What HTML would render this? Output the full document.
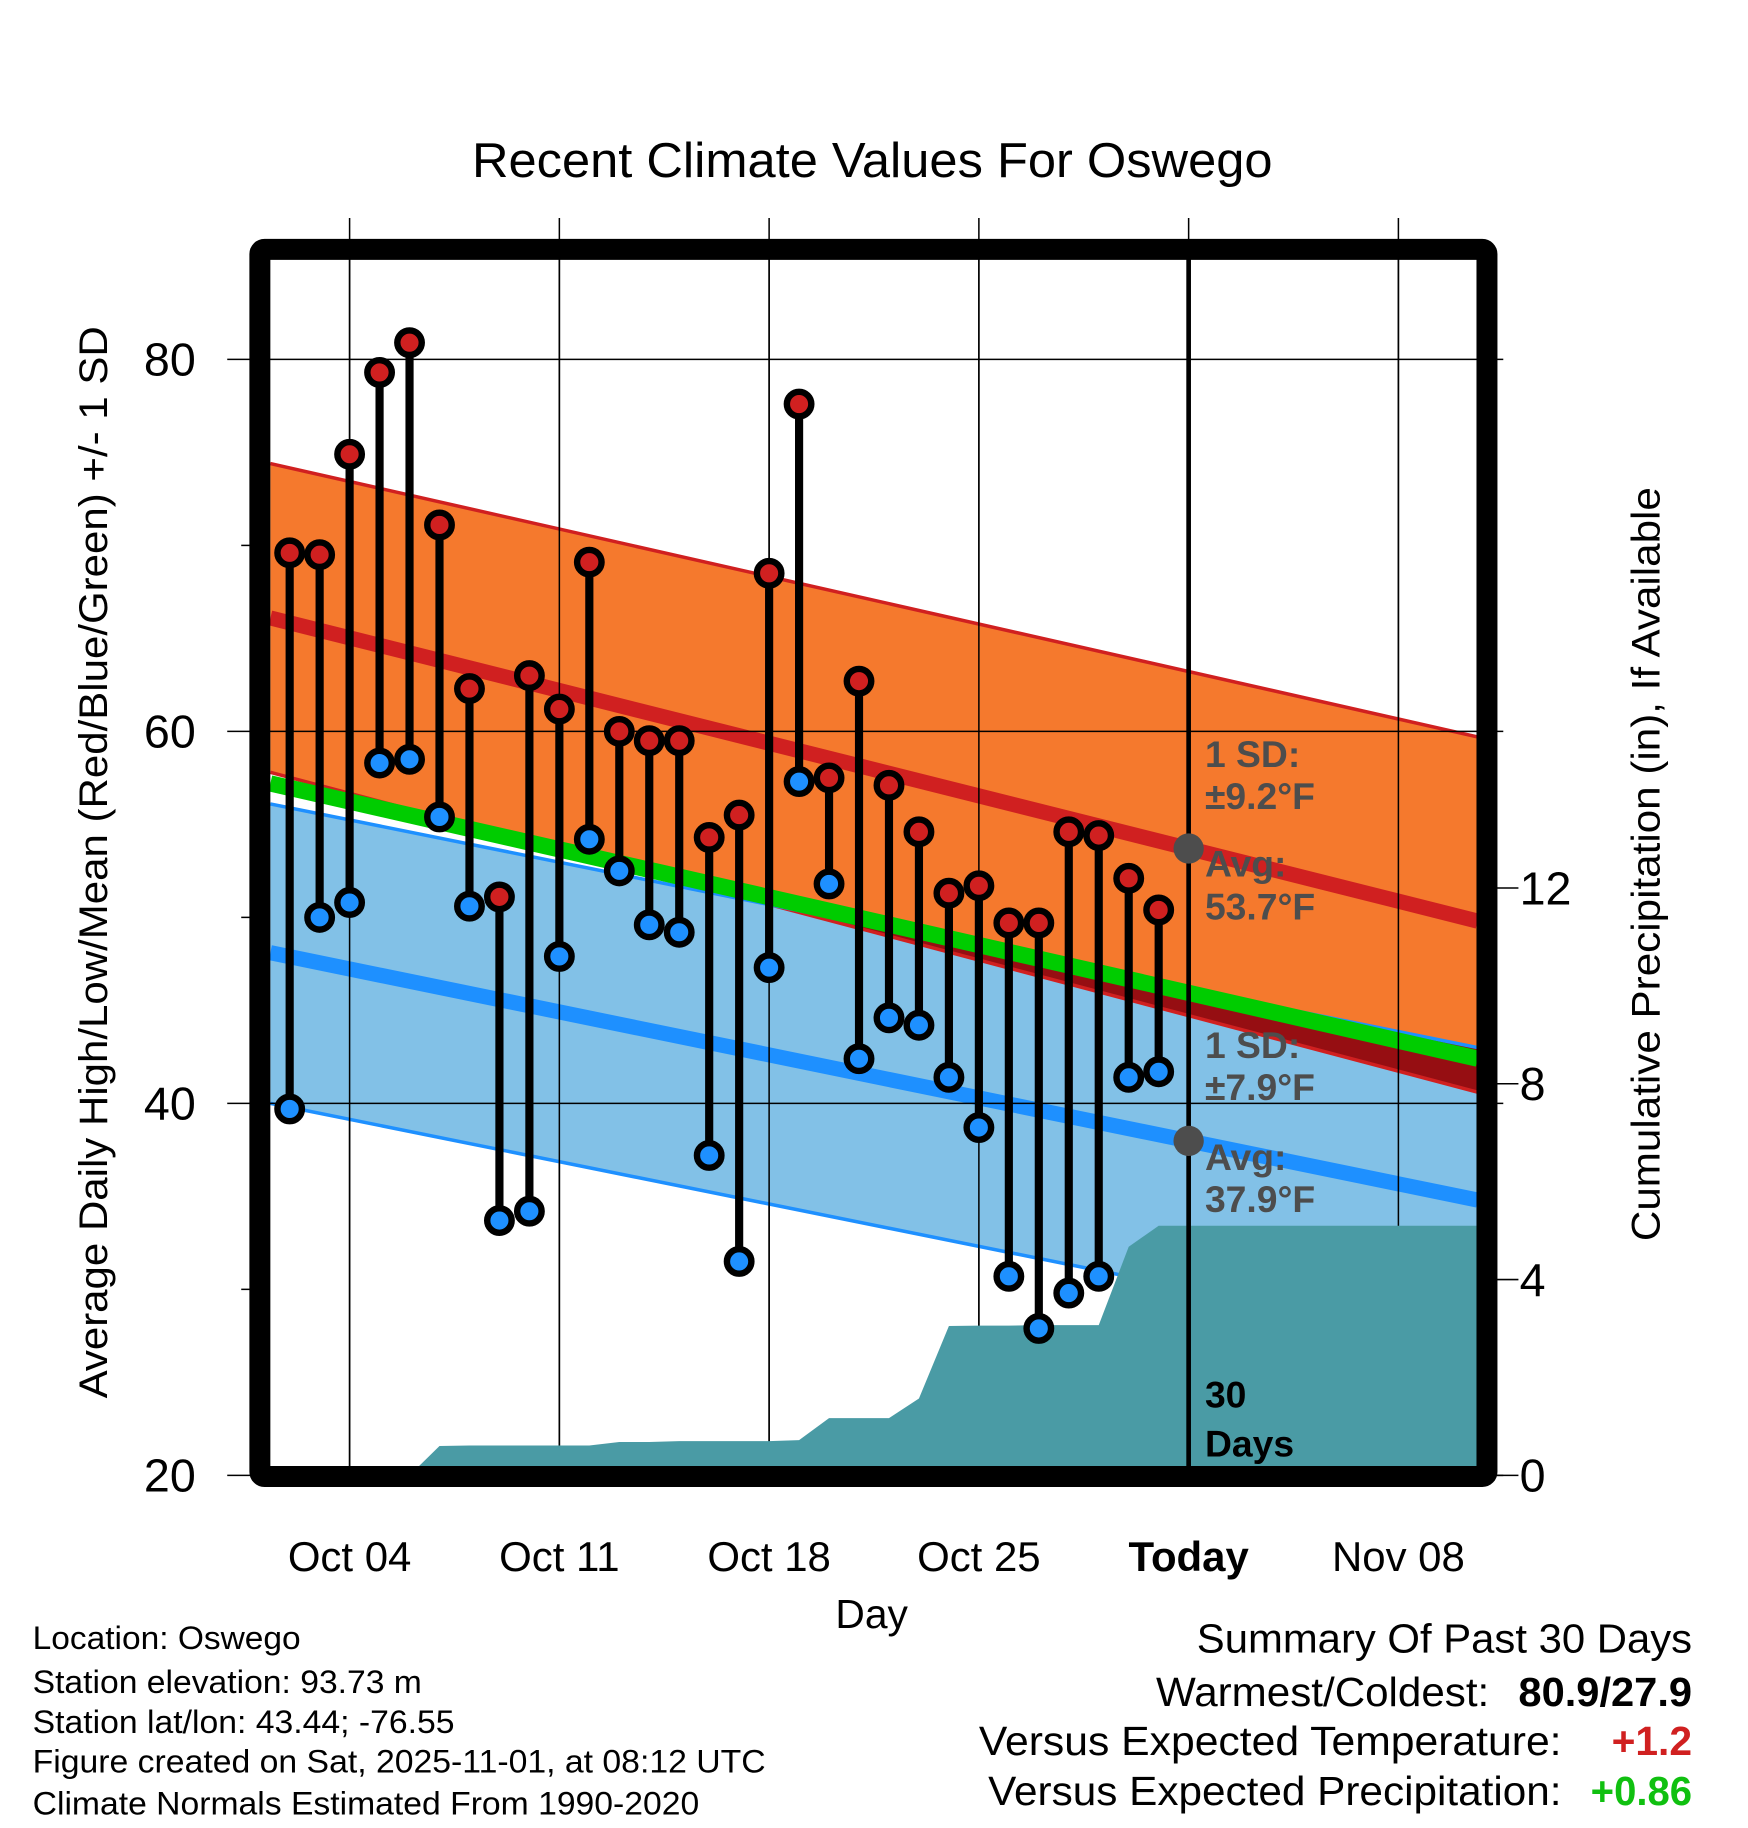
<!DOCTYPE html>
<html><head><meta charset="utf-8"><style>
html,body{margin:0;padding:0;background:#fff}
svg{display:block}
text{font-family:"Liberation Sans",sans-serif}
</style></head><body>
<svg id="chart" width="1748" height="1828" viewBox="0 0 1500 1568.6" xmlns="http://www.w3.org/2000/svg">
<rect width="1500" height="1568.6" fill="#fff"/>
<text x="405" y="152" font-size="42" textLength="687" lengthAdjust="spacingAndGlyphs">Recent Climate Values For Oswego</text>
<g id="grid"></g>
<g id="bands"></g>
<g id="precip"></g>
<g id="marks"></g>
<g id="frame"></g>
<g id="axes"></g>
<text transform="translate(92,1200) rotate(-90)" font-size="34" textLength="920" lengthAdjust="spacingAndGlyphs">Average Daily High/Low/Mean (Red/Blue/Green) +/- 1 SD</text>
<text transform="translate(1424,1065) rotate(-90)" font-size="34" textLength="647" lengthAdjust="spacingAndGlyphs">Cumulative Precipitation (in), If Available</text>
<text x="748" y="1397" font-size="35" text-anchor="middle">Day</text>
<g font-size="28" lengthAdjust="spacingAndGlyphs">
<text x="28" y="1415" textLength="230" lengthAdjust="spacingAndGlyphs">Location: Oswego</text>
<text x="28" y="1453" textLength="334" lengthAdjust="spacingAndGlyphs">Station elevation: 93.73 m</text>
<text x="28" y="1487" textLength="362" lengthAdjust="spacingAndGlyphs">Station lat/lon: 43.44; -76.55</text>
<text x="28" y="1521" textLength="629" lengthAdjust="spacingAndGlyphs">Figure created on Sat, 2025-11-01, at 08:12 UTC</text>
<text x="28" y="1557" textLength="572" lengthAdjust="spacingAndGlyphs">Climate Normals Estimated From 1990-2020</text>
</g>
<g font-size="35">
<text x="1027" y="1418" textLength="425" lengthAdjust="spacingAndGlyphs">Summary Of Past 30 Days</text>
<text x="992" y="1464" textLength="286" lengthAdjust="spacingAndGlyphs">Warmest/Coldest:</text>
<text x="1303" y="1464" font-weight="bold" textLength="149" lengthAdjust="spacingAndGlyphs">80.9/27.9</text>
<text x="840" y="1506" textLength="500" lengthAdjust="spacingAndGlyphs">Versus Expected Temperature:</text>
<text x="1452" y="1506" text-anchor="end" font-weight="bold" fill="#d02020">+1.2</text>
<text x="848" y="1549" textLength="492" lengthAdjust="spacingAndGlyphs">Versus Expected Precipitation:</text>
<text x="1365" y="1549" font-weight="bold" fill="#10c010" textLength="87" lengthAdjust="spacingAndGlyphs">+0.86</text>
</g>
</svg>
<script>
// data: day-of-month (October)
const days = [2,3,4,5,6,7,8,9,10,11,12,13,14,15,16,17,18,19,20,21,22,23,24,25,26,27,28,29,30,31];
const highs = [69.6,69.5,74.9,79.3,80.9,71.1,62.3,51.1,63.0,61.2,69.1,60.0,59.5,59.5,54.3,55.5,68.5,77.6,57.5,62.7,57.1,54.6,51.3,51.7,49.7,49.7,54.6,54.4,52.1,50.4];
const lows = [39.7,50.0,50.8,58.3,58.5,55.4,50.6,33.7,34.2,47.9,54.2,52.5,49.6,49.2,37.2,31.5,47.3,57.3,51.8,42.4,44.6,44.2,41.4,38.7,30.7,27.9,29.8,30.7,41.4,41.7];
const precip = [0,0,0,0,0,0.6,0.61,0.61,0.61,0.61,0.61,0.68,0.68,0.7,0.7,0.7,0.7,0.72,1.17,1.17,1.17,1.57,3.05,3.06,3.06,3.07,3.07,3.07,4.67,5.1];
// normals at left / right edges of plot
const normMaxUpper = [74.4,59.7];
const normMaxMean = [66.1,49.8];
const normMaxLower = [57.8,40.6];
const normMean = [57.2,42.4];
const normMinUpper = [56.1,43.0];
const normMinMean = [48.1,34.8];
const normMinLower = [40.0,26.9];
const xTickDays = [4,11,18,25,32,39];
const xTickLabels = ["Oct 04","Oct 11","Oct 18","Oct 25","Today","Nov 08"];
const yTicks = [20,40,60,80];
const yMinor = [30,50,70];
const y2Ticks = [0,4,8,12];
const todayDay = 32;

const NS="http://www.w3.org/2000/svg";
const L=232,R=1268,T=222,B=1260;
const x=d=>300+(d-4)*180/7;
const y=v=>1266-(v-20)*15.96;
const yp=p=>1266-p*42;
function mk(tag,parent,at){const e=document.createElementNS(NS,tag);for(const k in at)e.setAttribute(k,at[k]);document.getElementById(parent).appendChild(e);return e;}
const band=(a,b)=>`${L},${y(a[0])} ${R},${y(a[1])} ${R},${y(b[1])} ${L},${y(b[0])}`;

// grid
xTickDays.forEach((d,i)=>{
  let e=mk('line','grid',{x1:x(d),x2:x(d),y1:187,y2:1276,stroke:'#000','stroke-width':1.3});
  
  
  let t=mk('text','axes',{x:x(d),y:1348,'font-size':36,'text-anchor':'middle'});
  if(xTickLabels[i]==="Today")t.setAttribute('font-weight','bold');
  t.textContent=xTickLabels[i];
  
  
});
let e;
e=mk('polygon','bands',{points:band(normMaxUpper,normMaxLower),fill:'#f5792d'});


e=mk('polygon','bands',{points:band(normMinUpper,normMinLower),fill:'#82c1e7'});


(function(){
  const f0=normMinUpper[0]-normMaxLower[0], f1=normMinUpper[1]-normMaxLower[1];
  if(f1>0&&f0<0){
    const t=-f0/(f1-f0), xc=L+t*(R-L), vc=normMaxLower[0]+t*(normMaxLower[1]-normMaxLower[0]);
    e=mk('polygon','bands',{points:`${xc},${y(vc)} ${R},${y(normMinUpper[1])} ${R},${y(normMaxLower[1])}`,fill:'#960e12'});
    
    
  }
})();
[[normMaxUpper,'#d02020',3,'high-upper-line'],[normMaxLower,'#d02020',3,'high-lower-line'],[normMinUpper,'#1e90ff',3,'low-upper-line'],[normMinLower,'#1e90ff',3,'low-lower-line'],[normMaxMean,'#d02020',13,'avg-high-line'],[normMinMean,'#1e90ff',13,'avg-low-line'],[normMean,'#00cc00',14,'avg-mean-line']].forEach(a=>{
  e=mk('line','bands',{x1:L,x2:R,y1:y(a[0][0]),y2:y(a[0][1]),stroke:a[1],'stroke-width':a[2]});
  
  
});
yTicks.forEach(v=>{
  e=mk('line','bands',{x1:195,x2:1290,y1:y(v),y2:y(v),stroke:'#000','stroke-width':1.3});
  
  
  let t=mk('text','axes',{x:168,y:y(v)+14,'font-size':40,'text-anchor':'end'});
  t.textContent=v;
  
  
});
xTickDays.forEach(d=>{
  e=mk('line','bands',{x1:x(d),x2:x(d),y1:T,y2:B,stroke:'#000','stroke-width':1.3});
  
  
});
yMinor.forEach(v=>{
  e=mk('line','axes',{x1:207,x2:216,y1:y(v),y2:y(v),stroke:'#000','stroke-width':1.3});
  
  
});
y2Ticks.forEach(p=>{
  e=mk('line','axes',{x1:1284,x2:1303,y1:yp(p),y2:yp(p),stroke:'#000','stroke-width':1.3});
  
  
  let t=mk('text','axes',{x:1304,y:yp(p)+14,'font-size':40});
  t.textContent=p;
  
  
});
(function(){
  let pts=[[x(days[0]),yp(0)]];
  days.forEach((d,i)=>pts.push([x(d),yp(precip[i])]));
  pts.push([R,yp(precip[precip.length-1])],[R,B],[x(days[0]),B]);
  e=mk('polygon','precip',{points:pts.map(p=>p.join(',')).join(' '),fill:'#4a9ba5'});
  
  
})();
e=mk('line','marks',{x1:x(todayDay),x2:x(todayDay),y1:T,y2:B,stroke:'#000','stroke-width':4});


const tf=(x(todayDay)-L)/(R-L);
const avgHiToday=normMaxMean[0]+tf*(normMaxMean[1]-normMaxMean[0]);
const avgLoToday=normMinMean[0]+tf*(normMinMean[1]-normMinMean[0]);
[avgHiToday,avgLoToday].forEach(v=>{
  e=mk('circle','marks',{cx:x(todayDay),cy:y(v),r:13,fill:'#4d4d4d'});
  
  
});
[["1 SD:",658,'#4d4d4d'],["\u00b19.2\u00b0F",694,'#4d4d4d'],["Avg:",752,'#4d4d4d'],["53.7\u00b0F",789,'#4d4d4d'],["1 SD:",908,'#4d4d4d'],["\u00b17.9\u00b0F",944,'#4d4d4d'],["Avg:",1004,'#4d4d4d'],["37.9\u00b0F",1040,'#4d4d4d'],["30",1208,'#000'],["Days",1250,'#000']].forEach(a=>{
  let t=mk('text','marks',{x:1034,y:a[1],'font-size':32,'font-weight':'bold',fill:a[2]});
  t.textContent=a[0];
  
  
});
days.forEach((d,i)=>{
  e=mk('line','marks',{x1:x(d),x2:x(d),y1:y(highs[i]),y2:y(lows[i]),stroke:'#000','stroke-width':7});
  
  
});
days.forEach((d,i)=>{
  e=mk('circle','marks',{cx:x(d),cy:y(highs[i]),r:10.5,fill:'#d02020',stroke:'#000','stroke-width':5.5});
  
  
  e=mk('circle','marks',{cx:x(d),cy:y(lows[i]),r:10.5,fill:'#1e90ff',stroke:'#000','stroke-width':5.5});
  
  
});
e=mk('rect','frame',{x:223,y:214,width:1053,height:1053,fill:'none',stroke:'#000','stroke-width':18,rx:4});


</script>
</body></html>
